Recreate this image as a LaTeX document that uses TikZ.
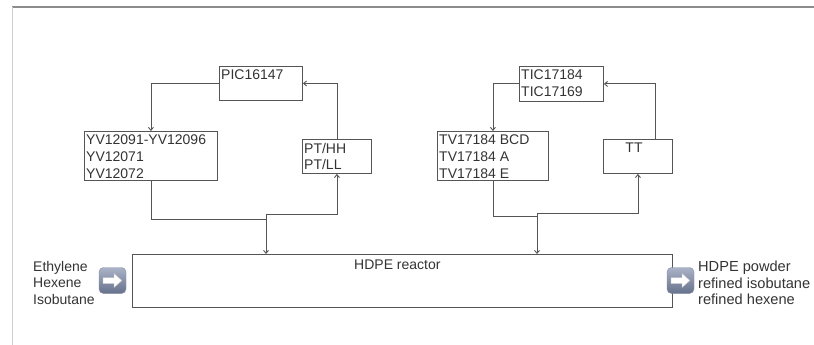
\documentclass[tikz,border=0pt]{standalone}
\usepackage{fontspec}
\setmainfont{Liberation Sans}
\usetikzlibrary{arrows.meta}
\definecolor{linec}{HTML}{555555}
\definecolor{txtc}{HTML}{333333}
\definecolor{icontop}{HTML}{AAB3C7}
\definecolor{iconbot}{HTML}{66718C}
\tikzset{
  box/.style={draw=linec, line width=0.9pt, inner sep=0pt, anchor=north west},
  txt/.style={inner sep=0pt, anchor=north west, align=left, text=txtc,
    font=\fontsize{14}{16.6}\selectfont},
  bigtxt/.style={txt, font=\fontsize{14.6}{16.6}\selectfont},
  conn/.style={draw=linec, line width=0.9pt},
  arr/.style={conn, -{Straight Barb[length=3pt,width=5pt]}},
  iconbox/.style={rounded corners=4.5pt, minimum width=27pt, minimum height=26pt,
    inner sep=0pt, top color=icontop, bottom color=iconbot, draw=iconbot!80, line width=0.4pt},
}
\begin{document}
\begin{tikzpicture}[x=1pt, y=-1pt]
\useasboundingbox (0,0) rectangle (814,345);
% frame
\draw[line width=2pt, draw=black!45] (12,7) -- (814,7);
\draw[line width=0.8pt, draw=black!18] (12.5,7) -- (12.5,345);

% boxes
\node[box, minimum width=83pt, minimum height=34pt] (pic) at (219,66) {};
\node[txt] (pict) at (221,69.5) {PIC16147};
\node[box, minimum width=133pt, minimum height=49pt] (yv) at (84,131) {};
\node[txt] (yvt) at (86,135) {YV12091-YV12096\\YV12071\\YV12072};
\node[box, minimum width=69pt, minimum height=34pt] (pt) at (302,139) {};
\node[txt] (ptt) at (304,143) {PT/HH\\PT/LL};

\node[box, minimum width=84pt, minimum height=35pt] (tic) at (519,66) {};
\node[txt] (tict) at (521,69.5) {TIC17184\\TIC17169};
\node[box, minimum width=111pt, minimum height=49pt] (tv) at (437,131) {};
\node[txt] (tvt) at (439,135) {TV17184 BCD\\TV17184 A\\TV17184 E};
\node[box, minimum width=69pt, minimum height=34pt] (tt) at (603,139) {};
\node[txt, anchor=north] (ttt) at (634,143) {TT};

\node[box, minimum width=540pt, minimum height=53pt] (reac) at (132,254) {};
\node[txt] (react) at (354,260) {HDPE reactor};

% feeds and products
\node[txt] (feed) at (33,261) {Ethylene\\Hexene\\Isobutane};
\node[bigtxt] (prod) at (698,261) {HDPE powder\\refined isobutane\\refined hexene};

% icons
\node[iconbox] (inL) at (112.5,280.5) {};
\node[iconbox] (inR) at (680.5,280.5) {};
\foreach \ic in {inL,inR}{
  \fill[white, draw=black!25, line width=0.3pt, shift={(\ic.center)}]
    (-9.5,-3) -- (1.5,-3) -- (1.5,-7) -- (9.5,0) -- (1.5,7) -- (1.5,3) -- (-9.5,3) -- cycle;
}

% junctions
\coordinate (jL) at (266,214);
\coordinate (jR) at (537,213);

% left loop
\draw[arr] (pt.north) |- (pic.east);
\draw[arr] (pic.west) -| (yv.north);
\draw[conn] (yv.south) |- (266,219) -- (jL);
\draw[arr] (jL) -| (pt.south);
\draw[arr] (jL) -- (jL |- reac.north);

% right loop
\draw[arr] ([xshift=17.5pt]tt.north) |- (tic.east);
\draw[arr] (tic.west) -| (tv.north);
\draw[conn] (tv.south) |- (537,216) -- (jR);
\draw[arr] (jR) -| (tt.south);
\draw[arr] (jR) -- (jR |- reac.north);
\end{tikzpicture}
\end{document}
